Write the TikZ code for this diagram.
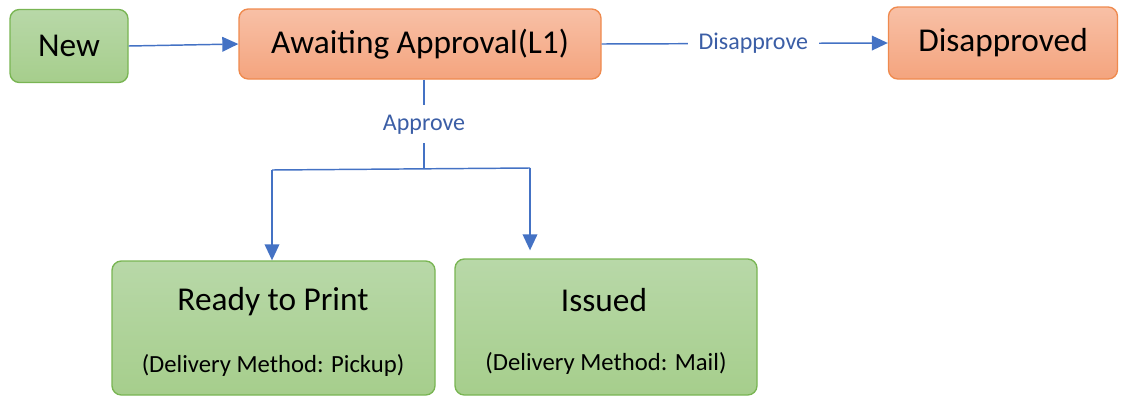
\documentclass[tikz,border=0pt]{standalone}
\usepackage{fontspec}
\setmainfont{Carlito}
\usepackage{tikz}
\usepackage{xcolor}
\usetikzlibrary{arrows.meta}

\definecolor{gtop}{HTML}{B8D8A8}
\definecolor{gbot}{HTML}{A6CE8C}
\definecolor{gline}{HTML}{79B553}
\definecolor{otop}{HTML}{F8C0A6}
\definecolor{obot}{HTML}{F4A47E}
\definecolor{oline}{HTML}{EF8A4E}
\definecolor{arrowblue}{HTML}{4472C4}
\definecolor{lblblue}{HTML}{3B5EA6}

\tikzset{
  greenbox/.style={draw=gline,line width=1pt,rounded corners=7pt,top color=gtop,bottom color=gbot,inner sep=0pt},
  orangebox/.style={draw=oline,line width=1pt,rounded corners=7pt,top color=otop,bottom color=obot,inner sep=0pt},
  flow/.style={draw=arrowblue,line width=1.1pt,-{Triangle[length=12pt,width=11pt]}},
  lbl/.style={fill=white,text=lblblue,font=\fontsize{18}{20}\selectfont,inner xsep=8pt,inner ysep=7pt},
  big/.style={font=\fontsize{25}{28}\selectfont},
  small/.style={font=\fontsize{18.5}{20}\selectfont}
}

\begin{document}
\begin{tikzpicture}[x=0.75pt,y=-0.75pt]
\useasboundingbox (0,0) rectangle (1123,396);
% top row
\node[greenbox,big,minimum width=88.5pt,minimum height=54.75pt] (new) at (69,46) {New};
\node[orangebox,big,minimum width=271.5pt,minimum height=52.5pt] (await) at (420,44) {Awaiting Approval(L1)};
\node[orangebox,big,minimum width=171.75pt,minimum height=54pt] (dis) at (1003,43) {Disapproved};
% bottom row
\node[greenbox,minimum width=242.25pt,minimum height=100.5pt] (rtp) at (273.5,328) {};
\node[big] (rtptitle) at (273,302) {Ready to Print};
\node[small] (rtpsub) at (273,365) {(Delivery Method: Pickup)};
\node[greenbox,minimum width=226.5pt,minimum height=102pt] (iss) at (606,327) {};
\node[big] (isstitle) at (604,300) {Issued};
\node[small] (isssub) at (606,363) {(Delivery Method: Mail)};
% connectors
\coordinate (split) at (424,169);
\coordinate (lft) at (272,170);
\coordinate (rgt) at (530,168);
\draw[flow] (new.east) -- (await.west);
\draw[flow] (await.east) -- node[lbl,pos=0.53] {Disapprove} (dis.west);
\draw[draw=arrowblue,line width=1.1pt] (await.south -| split) -- node[lbl] {Approve} (split);
\draw[draw=arrowblue,line width=1.1pt] (lft) -- (rgt);
\draw[flow] (lft) -- (lft |- rtp.north);
\draw[flow,shorten >=6pt] (rgt) -- (rgt |- iss.north);
\end{tikzpicture}
\end{document}
